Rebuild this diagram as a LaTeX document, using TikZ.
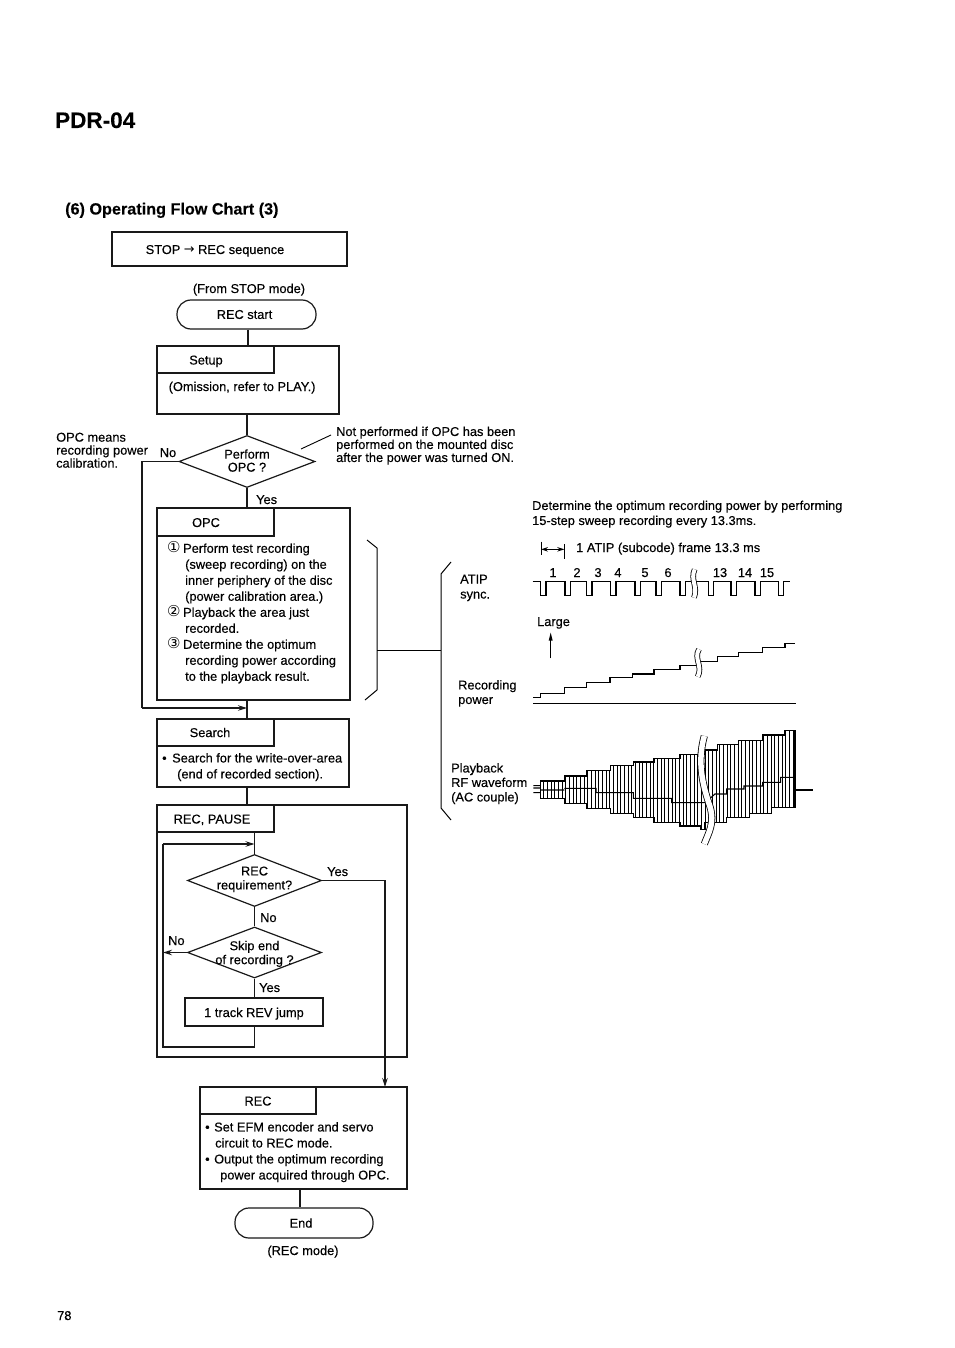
\documentclass[tikz,border=0pt]{standalone}
\usepackage{fontspec}
\setmainfont{Liberation Sans}[FakeBold=0.25]
\newfontfamily\djv{DejaVu Sans}
\usetikzlibrary{arrows.meta,shapes.geometric}
\newcommand{\zb}[1]{\makebox[0pt]{#1}}
\newcommand{\lowtxt}[1]{\raisebox{-5pt}[0pt][0pt]{#1}}
\newcommand{\circnum}[1]{\makebox[16pt][l]{{\djv\fontsize{15}{16}\selectfont #1}}}
\tikzset{
  every node/.style={font=\fontsize{12.8}{16}\selectfont},
  ink/.style={line width=1.2pt,draw=black!90},
  boxn/.style={ink,rectangle,inner sep=0pt,align=center},
  pill/.style={ink,rectangle,rounded corners=14pt,inner sep=0pt},
  dia/.style={ink,diamond,inner sep=0pt,align=center,shape aspect=2.4},
  tx/.style={inner sep=0pt,anchor=base west,yshift=-5pt},
  txc/.style={inner sep=0pt,anchor=base,yshift=-5pt},
  para/.style={inner sep=0pt,anchor=north west,align=left},
  wire/.style={ink},
  flow/.style={ink,-{Stealth[length=9pt,width=5.5pt]}},
  brk/.style={line width=0.8pt,double=white,double distance=#1},
  brk/.default=4pt
}
\begin{document}
\begin{tikzpicture}[x=1pt,y=-1pt]
\useasboundingbox[fill=white] (0,0) rectangle (954,1348);
% titles
\node[inner sep=0pt,anchor=base west,font=\fontsize{22.5}{26}\selectfont\bfseries] (title) at (55,128) {PDR-04};
\node[inner sep=0pt,anchor=base west,font=\fontsize{16.2}{20}\selectfont\bfseries] (head) at (65,214.5) {(6) Operating Flow Chart (3)};
\node[boxn,minimum width=235pt,minimum height=34pt] (seq) at (229.5,249) {\lowtxt{STOP {\djv →} REC sequence}\hspace*{29pt}};
\node[txc] (from) at (249,288) {(From STOP mode)};
\node[pill,minimum width=139pt,minimum height=29pt] (start) at (246.5,314.5) {REC start\hspace*{4pt}};
% Setup
\node[boxn,minimum width=182pt,minimum height=68pt] (setup) at (248,380) {};
\node[boxn,minimum width=117pt,minimum height=27pt] (setuph) at (215.5,359.5) {\lowtxt{Setup}\hspace*{19pt}};
\node[tx] (setupt) at (168.5,386) {(Omission, refer to PLAY.)};
% Perform
\node[dia,minimum width=136pt,minimum height=52pt,font=\fontsize{12.8}{13}\selectfont] (d1) at (247,461.5) {\zb{Perform}\\\zb{OPC ?}\rule[-2pt]{0pt}{2pt}};
\node[para,font=\fontsize{12.8}{13}\selectfont] (note) at (336,426.5) {Not performed if OPC has been\\performed on the mounted disc\\after the power was turned ON.};
\node[para,font=\fontsize{12.8}{13}\selectfont] (means) at (56,432.5) {OPC means\\recording power\\calibration.};
\node[txc] (no1) at (168,452) {No};
\node[tx] (yes1) at (256,499) {Yes};
% OPC
\node[boxn,minimum width=193pt,minimum height=192pt] (opc) at (253.5,604) {};
\node[boxn,minimum width=117pt,minimum height=28pt] (opch) at (215.5,522) {\lowtxt{OPC}\hspace*{19pt}};
\node[para] (opct) at (167,541.5) {\circnum{①}Perform test recording\\
\hspace*{18pt}(sweep recording) on the\\
\hspace*{18pt}inner periphery of the disc\\
\hspace*{18pt}(power calibration area.)\\
\circnum{②}Playback the area just\\
\hspace*{18pt}recorded.\\
\circnum{③}Determine the optimum\\
\hspace*{18pt}recording power according\\
\hspace*{18pt}to the playback result.};
% Search
\node[boxn,minimum width=192pt,minimum height=68pt] (search) at (253,753) {};
\node[boxn,minimum width=117pt,minimum height=27pt] (searchh) at (215.5,732.5) {Search\hspace*{11pt}};
\node[para] (searcht) at (162,753) {\makebox[10pt][l]{•}Search for the write-over-area\\\hspace*{15pt}(end of recorded section).};
% Pause
\node[boxn,minimum width=250pt,minimum height=252pt] (pause) at (282,931) {};
\node[boxn,minimum width=117pt,minimum height=27pt] (pauseh) at (215.5,818.5) {\lowtxt{REC, PAUSE}\hspace*{7pt}};
\node[dia,minimum width=134pt,minimum height=52pt,font=\fontsize{12.8}{14}\selectfont] (d2) at (254.5,880.5) {\zb{REC}\\\zb{requirement?}\rule[-5pt]{0pt}{5pt}};
\node[dia,minimum width=134pt,minimum height=51pt,font=\fontsize{12.8}{14}\selectfont] (d3) at (254.5,952.5) {\rule{0pt}{12pt}\zb{Skip end}\\\zb{of recording ?}};
\node[tx] (yes2) at (327,871) {Yes};
\node[tx] (no2) at (260,917) {No};
\node[tx] (no3) at (168,940) {No};
\node[tx] (yes3) at (259,987) {Yes};
\node[boxn,minimum width=138pt,minimum height=28pt] (track) at (254,1012) {\lowtxt{1 track REV jump}};
% REC
\node[boxn,minimum width=207pt,minimum height=102pt] (rec) at (303.5,1138) {};
\node[boxn,minimum width=116pt,minimum height=27pt] (rech) at (258,1100.5) {\lowtxt{REC}};
\node[para] (rect) at (205,1122) {\makebox[9pt][l]{•}Set EFM encoder and servo\\\hspace*{10pt}circuit to REC mode.\\\makebox[9pt][l]{•}Output the optimum recording\\\hspace*{15pt}power acquired through OPC.};
\node[pill,minimum width=138pt,minimum height=30pt] (endn) at (304,1223) {\hspace*{-6pt}End};
\node[txc] (recmode) at (303,1250) {(REC mode)};
\node[tx] (page) at (57,1315) {78};
% connectors
\coordinate (ol) at (142,708);
\coordinate (lt) at (163,844);
\coordinate (lb) at (163,1047);
\coordinate (rx) at (385,1087);
\coordinate (nl) at (331,435);
\coordinate (ne) at (301,449);
\coordinate (ec) at (300,1200);
\draw[wire] (start.south -| setup.north) -- (setup.north);
\draw[wire] (setup.south -| d1.north) -- (d1.north);
\draw[wire] (d1.south) -- (d1.south |- opc.north);
\draw[wire] (d1.south |- opc.south) -- (d1.south |- search.north);
\draw[wire] (d1.south |- search.south) -- (d1.south |- pause.north);
\draw[wire] (d2.north |- pauseh.south) -- (d2.north);
\draw[wire] (d2.south) -- (d3.north);
\draw[wire] (d3.south) -- (d3.south |- track.north);
\draw[wire] (d3.south |- track.south) |- (lb) -- (lt);
\draw[flow] (lt) -- (d2.north |- lt);
\draw[flow] (d3.west) -- (lt |- d3.west);
\draw[flow] (d2.east) -| (rx);
\draw[wire] (d1.west) -| (ol);
\draw[flow] (ol) -- (d1.south |- ol);
\draw[wire] (rec.south -| ec) -- (endn.north -| ec);
\draw[line width=0.9pt] (nl) -- (ne);
% brackets
\coordinate (ba) at (377,650);
\coordinate (bb) at (441,650);
\draw[line width=1pt] (367,540) -- (377,548) -- (377,690) -- (365,700);
\draw[line width=1pt] (451,562) -- (441,574) -- (441,808) -- (451,820);
\draw[line width=1pt] (ba) -- (bb);
% right side labels
\node[para,font=\fontsize{12.8}{15}\selectfont] (det) at (532,500.5) {Determine the optimum recording power by performing\\15-step sweep recording every 13.3ms.};
\node[para,font=\fontsize{12.8}{15}\selectfont] (atip) at (460,574.5) {ATIP\\sync.};
\node[para,font=\fontsize{12.8}{14.5}\selectfont] (rp) at (458,680) {Recording\\power};
\node[para,font=\fontsize{12.8}{14.5}\selectfont] (pb) at (451,763) {Playback\\RF waveform\\(AC couple)};
\node[tx] (frame) at (576,547) {1 ATIP (subcode) frame 13.3 ms};
\node[tx] (large) at (537,621) {Large};
\foreach \nm/\xx/\lab in {n1/553/1,n2/577/2,n3/598/3,n4/618/4,n5/645/5,n6/668/6,n13/720/13,n14/745/14,n15/767/15}
  \node[txc] (\nm) at (\xx,572) {\lab};
% ATIP sync & power diagram (zoom-1 coordinates)
\begin{scope}[shift={(520,530)},x=0.3333pt,y=-0.3333pt]
  \draw[line width=1pt] (63,35) -- (63,75) (133,42) -- (133,88);
  \draw[line width=1pt,{Stealth[length=7pt,width=4.5pt]}-{Stealth[length=7pt,width=4.5pt]}] (63,58) -- (133,58);
  \draw[line width=1.1pt] (38,155)
   \foreach \p in {62,135,200,272,345,408,480,565,633,705,775} { -- (\p,155) -- (\p,197) -- (\p+16,197) -- (\p+16,155) } -- (810,155);
  \draw[brk=4pt] (524,118) .. controls (510,150) and (535,170) .. (522,203);
  \draw[line width=1.1pt] (92,385) -- (92,330);
  \fill (92,308) -- (86,332) -- (98,332) -- cycle;
  \draw[line width=1.3pt] (40,503) -- (62,503) -- (62,490) -- (133,490) -- (133,473) -- (200,473) -- (200,457) -- (270,457) -- (270,442) -- (338,442) -- (338,432) -- (402,432) -- (402,418) -- (480,418) -- (480,407) -- (535,407)
   (535,395) -- (592,395) -- (592,379) -- (655,379) -- (655,367) -- (728,367) -- (728,352) -- (795,352) -- (795,340) -- (825,340);
  \draw[line width=1.4pt] (40,520) -- (827,520);
  \draw[brk=4pt] (537,358) .. controls (520,385) and (550,410) .. (533,440);
\end{scope}
% RF waveform (zoom-2 coordinates)
\begin{scope}[shift={(520,720)},x=0.3333pt,y=-0.3333pt]
  \begin{scope}
    \clip (62,183) -- (133,183) -- (133,168) -- (200,168) -- (200,152) -- (272,152) -- (272,137) -- (340,137) -- (340,126) -- (402,126) -- (402,115) -- (480,115) -- (480,103) -- (555,103) -- (555,90) -- (592,90) -- (592,74) -- (655,74) -- (655,62) -- (728,62) -- (728,45) -- (795,45) -- (795,32) -- (825,32) -- (825,263) -- (755,263) -- (755,280) -- (688,280) -- (688,292) -- (620,292) -- (620,308) -- (555,308) -- (555,328) -- (543,328) -- (543,318) -- (480,318) -- (480,308) -- (402,308) -- (402,292) -- (340,292) -- (340,280) -- (272,280) -- (272,265) -- (200,265) -- (200,250) -- (133,250) -- (133,235) -- (62,235) -- cycle;
    \foreach \x in {71,82,...,820} \draw[line width=0.75pt] (\x,0) -- (\x,380);
  \end{scope}
  \draw[line width=1.3pt] (62,183) -- (133,183) -- (133,168) -- (200,168) -- (200,152) -- (272,152) -- (272,137) -- (340,137) -- (340,126) -- (402,126) -- (402,115) -- (480,115) -- (480,103) -- (555,103) -- (555,90) -- (592,90) -- (592,74) -- (655,74) -- (655,62) -- (728,62) -- (728,45) -- (795,45) -- (795,32) -- (825,32) -- (825,263) -- (755,263) -- (755,280) -- (688,280) -- (688,292) -- (620,292) -- (620,308) -- (555,308) -- (555,328) -- (543,328) -- (543,318) -- (480,318) -- (480,308) -- (402,308) -- (402,292) -- (340,292) -- (340,280) -- (272,280) -- (272,265) -- (200,265) -- (200,250) -- (133,250) -- (133,235) -- (62,235) -- cycle;
  \draw[line width=1.1pt] (40,197) -- (62,197) (40,204) -- (62,204) (40,218) -- (62,218) (62,210) -- (133,210) (133,205) -- (228,205) -- (228,218) -- (340,218) -- (340,235) -- (455,235) -- (455,248) -- (555,248) -- (585,222) -- (620,222) -- (620,207) -- (672,207) -- (672,198) -- (728,198) -- (728,187) -- (782,187) -- (782,172) -- (825,172);
  \draw[line width=1.1pt] (825,210) -- (878,210);
  \draw[brk=5.5pt] (553,48) .. controls (530,130) and (550,200) .. (570,260) .. controls (585,310) and (565,340) .. (553,372);
\end{scope}
\end{tikzpicture}
\end{document}
